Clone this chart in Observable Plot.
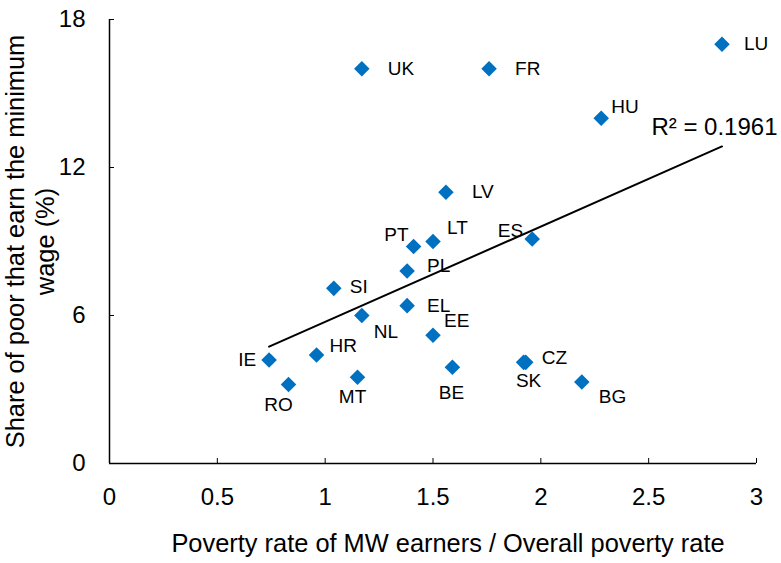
<!DOCTYPE html>
<html><head><meta charset="utf-8">
<script src="https://cdn.jsdelivr.net/npm/d3@7"></script>
<script src="https://cdn.jsdelivr.net/npm/@observablehq/plot@0.6"></script>
<style>body{margin:0;background:#fff}</style>
</head><body><div id="chart"></div>
<script>
const countries    = ["LU", "UK", "FR", "HU", "LV", "LT", "PT", "ES", "PL", "SI", "EL", "NL", "EE", "IE", "HR", "RO", "MT", "BE", "CZ", "SK", "BG"];
const povertyRatio = [2.84, 1.17, 1.76, 2.28, 1.56, 1.50, 1.41, 1.96, 1.38, 1.04, 1.38, 1.17, 1.50, 0.74, 0.96, 0.83, 1.15, 1.59, 1.93, 1.92, 2.19];
const shareMW      = [17.0, 16.0, 16.0, 14.0, 11.0, 9.0, 8.8, 9.1, 7.8, 7.1, 6.4, 6.0, 5.2, 4.2, 4.4, 3.2, 3.5, 3.9, 4.1, 4.1, 3.3];
const xTicks = [0, 0.5, 1, 1.5, 2, 2.5, 3];
const xTickLabels = ["0", "0.5", "1", "1.5", "2", "2.5", "3"];
const yTicks = [0, 6, 12, 18];
const yTickLabels = ["0", "6", "12", "18"];
const xTitle = "Poverty rate of MW earners / Overall poverty rate";
const yTitle = "Share of poor that earn the minimum\nwage (%)";
const r2Label = "R² = 0.1961";

// label placement (pixel offsets, anchor) — layout only
const labelPlacement = {
  LU: [22, 0, "start"], UK: [26, 0, "start"], FR: [26, 0, "start"], HU: [10, -11, "start"],
  LV: [26, 0, "start"], LT: [14, -14, "start"], PT: [-5, -12, "end"], ES: [-9, -8, "end"],
  PL: [20, -5, "start"], SI: [16, -1, "start"], EL: [20, 0, "start"], NL: [12, 16, "start"],
  EE: [11, -14, "start"], IE: [-13, 0, "end"], HR: [13, -9, "start"], RO: [-10, 20, "middle"],
  MT: [-5, 20, "middle"], BE: [-1, 26, "middle"], CZ: [16, -4, "start"], SK: [5, 19, "middle"],
  BG: [17, 15, "start"]
};

const data = countries.map((c, i) => ({country: c, x: povertyRatio[i], y: shareMW[i]}));
const font = "'Liberation Sans', Arial, Helvetica, sans-serif";

const labelMarks = data.map(d => {
  const [dx, dy, anchor] = labelPlacement[d.country];
  return Plot.text([d], {x: "x", y: "y", text: "country", dx, dy, textAnchor: anchor, fontSize: 19, fill: "#000"});
});

const chart = Plot.plot({
  width: 781, height: 563,
  marginTop: 19, marginRight: 25, marginBottom: 100, marginLeft: 109,
  style: {fontFamily: font, fontSize: "24px", color: "#000", background: "#fff"},
  x: {domain: [0, 3]},
  y: {domain: [0, 18]},
  marks: [
    Plot.axisX({ticks: xTicks, tickFormat: d => xTickLabels[xTicks.indexOf(d)], tickSize: -5, tickPadding: 29, label: null, fontSize: 24, stroke: "#000"}),
    Plot.axisY({ticks: yTicks, tickFormat: d => yTickLabels[yTicks.indexOf(d)], tickSize: -5, tickPadding: 29, label: null, fontSize: 24, stroke: "#000"}),
    Plot.ruleY([0], {stroke: "#000", strokeWidth: 1.5}),
    Plot.ruleX([0], {stroke: "#000", strokeWidth: 1.5}),
    Plot.linearRegressionY(data, {x: "x", y: "y", ci: 0, stroke: "#000", strokeWidth: 2}),
    Plot.dot(data, {x: "x", y: "y", symbol: "diamond2", r: 7, fill: "#0070C0", stroke: "none"}),
    ...labelMarks,
    Plot.text([r2Label], {frameAnchor: "top-right", textAnchor: "end", lineAnchor: "middle", dx: 21, dy: 108, fontSize: 24, fill: "#000"}),
    Plot.text([xTitle], {frameAnchor: "bottom", textAnchor: "middle", lineAnchor: "middle", dx: 15, dy: 80, fontSize: 25.4, fill: "#000"}),
    Plot.text([yTitle], {frameAnchor: "left", textAnchor: "middle", lineAnchor: "middle", dx: -80, rotate: -90, fontSize: 25.4, lineHeight: 1.2, fill: "#000"})
  ]
});
document.getElementById("chart").appendChild(chart);
</script>
</body></html>
